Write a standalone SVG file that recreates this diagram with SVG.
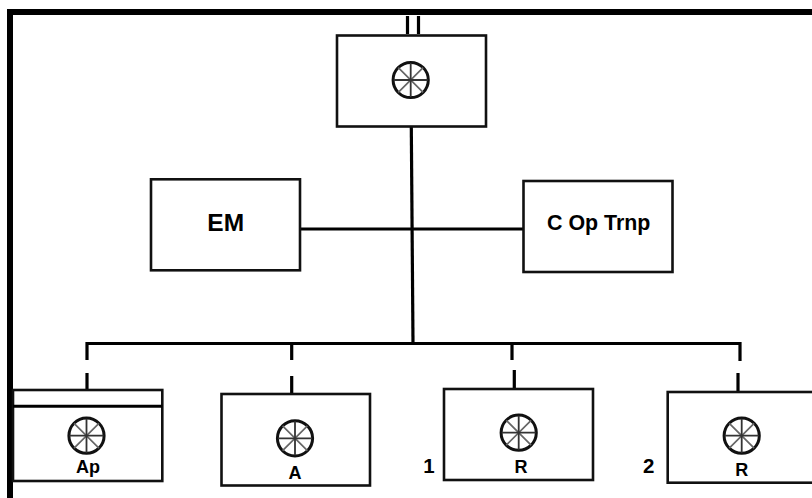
<svg xmlns="http://www.w3.org/2000/svg" width="812" height="498" viewBox="0 0 812 498">
<style>
.box{fill:#fff;stroke:#111;stroke-width:2.6}
.ln{stroke:#000;stroke-width:3.2;fill:none}
.rim{fill:#fff;stroke:#111;stroke-width:3}
.sp{stroke:#333;stroke-width:1.8}
.sd{stroke:#666;stroke-width:1.7}
text{font-family:"Liberation Sans",Arial,sans-serif;font-weight:700;fill:#000;text-anchor:middle}
.s{font-size:18px}
</style>
<defs>
<g id="wheel">
<circle class="rim" r="17.6"/>
<path class="sd" d="M-12.4-12.4L12.4 12.4M-12.4 12.4L12.4-12.4"/>
<path class="sp" d="M0-17V17M-17 0H17"/>
</g>
</defs>
<rect width="812" height="498" fill="#fff"/>
<g id="frame"><path d="M7 9H812V15H13V498H7Z" fill="#000"/></g>
<g id="connectors" class="ln">
<path d="M407.5 16V34M418.5 16V34"/>
<path d="M411.3 127L413 343.5"/>
<path d="M300 229H523"/>
<path d="M87 360V343.5H740V361"/>
<path d="M87 373V390"/>
<path d="M291.7 343.5V360M291.7 376V393"/>
<path d="M512 343.5V360M514.3 370V388"/>
<path d="M738 373V391"/>
</g>
<g id="node-top"><rect class="box" x="337" y="35.5" width="149" height="91"/><use href="#wheel" x="410.7" y="80"/></g>
<g id="node-em"><rect class="box" x="151" y="179.3" width="149" height="91"/><text x="225.7" y="231" font-size="24.5">EM</text></g>
<g id="node-cop"><rect class="box" x="523.5" y="181" width="149" height="91"/><text x="598.7" y="230" font-size="21.4">C Op Trnp</text></g>
<g id="node-ap"><rect class="box" x="13" y="390" width="149.3" height="91"/><path d="M13 406.3H162.3" stroke="#000" stroke-width="3"/><use href="#wheel" x="86.5" y="435.7"/><text class="s" x="88" y="473">Ap</text></g>
<g id="node-a"><rect class="box" x="221.5" y="394" width="148.5" height="91.5"/><use href="#wheel" x="295" y="438.3"/><text class="s" x="295" y="478.5">A</text></g>
<g id="node-r1"><rect class="box" x="444" y="389" width="149" height="91"/><use href="#wheel" x="518.7" y="432.7"/><text class="s" x="521" y="472.7">R</text><text x="429" y="472.5" font-size="20.5">1</text></g>
<g id="node-r2"><rect class="box" x="667.7" y="392" width="150" height="90.7"/><use href="#wheel" x="741.7" y="435.7"/><text class="s" x="741.7" y="476">R</text><text x="648.7" y="473" font-size="20.5">2</text></g>
</svg>
